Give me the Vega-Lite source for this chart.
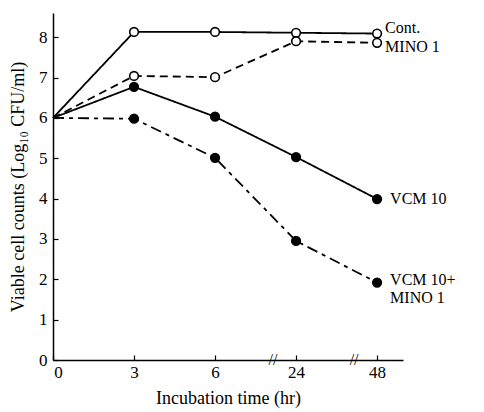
{
  "$schema": "https://vega.github.io/schema/vega-lite/v6.json",
  "autosize": "none",
  "width": 350,
  "height": 347,
  "padding": {"left": 53, "top": 13, "right": 81, "bottom": 52},
  "background": "white",
  "config": {
    "view": {"stroke": null},
    "font": "Liberation Serif",
    "axis": {
      "domainColor": "black",
      "domainWidth": 1.5,
      "tickColor": "black",
      "tickWidth": 1.2,
      "labelColor": "black",
      "titleColor": "black",
      "labelFont": "Liberation Serif",
      "titleFont": "Liberation Serif",
      "labelFontSize": 17,
      "titleFontSize": 18,
      "titleFontWeight": "normal",
      "grid": false
    }
  },
  "datasets": {
    "obs": [
      {"series": "Cont.", "hour": 0, "value": 6.0},
      {"series": "Cont.", "hour": 3, "value": 8.13},
      {"series": "Cont.", "hour": 6, "value": 8.13},
      {"series": "Cont.", "hour": 24, "value": 8.11},
      {"series": "Cont.", "hour": 48, "value": 8.09},
      {"series": "MINO 1", "hour": 0, "value": 6.0},
      {"series": "MINO 1", "hour": 3, "value": 7.04},
      {"series": "MINO 1", "hour": 6, "value": 7.01},
      {"series": "MINO 1", "hour": 24, "value": 7.9},
      {"series": "MINO 1", "hour": 48, "value": 7.86},
      {"series": "VCM 10", "hour": 0, "value": 6.0},
      {"series": "VCM 10", "hour": 3, "value": 6.77},
      {"series": "VCM 10", "hour": 6, "value": 6.03},
      {"series": "VCM 10", "hour": 24, "value": 5.03},
      {"series": "VCM 10", "hour": 48, "value": 3.99},
      {"series": "VCM 10+MINO 1", "hour": 0, "value": 6.0},
      {"series": "VCM 10+MINO 1", "hour": 3, "value": 5.98},
      {"series": "VCM 10+MINO 1", "hour": 6, "value": 5.01},
      {"series": "VCM 10+MINO 1", "hour": 24, "value": 2.95},
      {"series": "VCM 10+MINO 1", "hour": 48, "value": 1.92}
    ]
  },
  "data": {"name": "obs"},
  "encoding": {
    "x": {
      "field": "hour",
      "type": "ordinal",
      "sort": [0, 3, 6, 24, 48],
      "scale": {"type": "point", "domain": [0, 3, 6, 24, 48], "padding": 0.16, "align": 0},
      "axis": {
        "title": "Incubation time (hr)",
        "labelAngle": 0,
        "tickSize": -5,
        "labelPadding": 9,
        "labelOffset": {"condition": {"test": "datum.value == 0", "value": 5}, "value": 0},
        "titlePadding": 9
      }
    },
    "y": {
      "field": "value",
      "type": "quantitative",
      "scale": {"domain": [0, 8.6], "nice": false, "zero": true},
      "axis": {
        "title": "Viable cell counts (Log₁₀ CFU/ml)",
        "values": [0, 1, 2, 3, 4, 5, 6, 7, 8],
        "tickSize": -5,
        "labelPadding": 11,
        "titlePadding": 11
      }
    }
  },
  "layer": [
    {
      "mark": {"type": "line", "color": "black", "strokeWidth": 1.8},
      "encoding": {
        "detail": {"field": "series"},
        "strokeDash": {
          "field": "series",
          "type": "nominal",
          "scale": {
            "domain": ["Cont.", "MINO 1", "VCM 10", "VCM 10+MINO 1"],
            "range": [[1, 0], [8, 5], [1, 0], [11, 5, 4, 5]]
          },
          "legend": null
        }
      }
    },
    {
      "transform": [{"filter": "datum.hour > 0"}],
      "mark": {"type": "point", "shape": "circle", "filled": true, "size": 75, "stroke": "black", "strokeWidth": 1.6, "opacity": 1},
      "encoding": {
        "fill": {
          "field": "series",
          "type": "nominal",
          "scale": {
            "domain": ["Cont.", "MINO 1", "VCM 10", "VCM 10+MINO 1"],
            "range": ["white", "white", "black", "black"]
          },
          "legend": null
        }
      }
    },
    {
      "transform": [{"filter": "datum.hour == 48 && datum.series == 'Cont.'"}],
      "mark": {"type": "text", "text": "Cont.", "align": "left", "baseline": "middle", "dx": 8, "dy": -6, "fontSize": 16, "color": "black"}
    },
    {
      "transform": [{"filter": "datum.hour == 48 && datum.series == 'MINO 1'"}],
      "mark": {"type": "text", "text": "MINO 1", "align": "left", "baseline": "middle", "dx": 8, "dy": 4, "fontSize": 16, "color": "black"}
    },
    {
      "transform": [{"filter": "datum.hour == 48 && datum.series == 'VCM 10'"}],
      "mark": {"type": "text", "text": "VCM 10", "align": "left", "baseline": "middle", "dx": 13, "dy": 0, "fontSize": 16, "color": "black"}
    },
    {
      "transform": [{"filter": "datum.hour == 48 && datum.series == 'VCM 10+MINO 1'"}],
      "mark": {"type": "text", "text": ["VCM 10+", "MINO 1"], "align": "left", "baseline": "middle", "dx": 13, "dy": -3, "lineHeight": 18, "fontSize": 16, "color": "black"}
    },
    {
      "transform": [{"filter": "datum.hour >= 24 && datum.series == 'Cont.'"}],
      "mark": {"type": "text", "text": "//", "align": "center", "baseline": "middle", "dx": -23, "fontSize": 16, "color": "black"},
      "encoding": {
        "y": {"datum": 0.001, "type": "quantitative"}
      }
    }
  ]
}
